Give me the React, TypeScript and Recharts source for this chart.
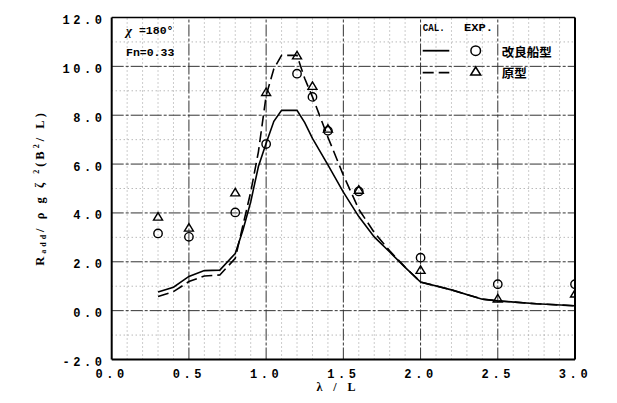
import { ComposedChart, Line, Scatter, XAxis, YAxis, ReferenceLine } from 'recharts'

// calculated curves (λ/L, R_add non-dimensional)
const calLambda = [0.3, 0.4, 0.5, 0.6, 0.7, 0.8, 0.85, 0.9, 0.95, 1.0, 1.05, 1.1, 1.2, 1.25, 1.3, 1.4, 1.5, 1.6, 1.7, 1.8, 1.9, 2.0, 2.2, 2.4, 2.5, 2.75, 3.0]
const calImproved = [0.76, 0.96, 1.4, 1.64, 1.66, 2.34, 3.3, 4.45, 5.9, 6.85, 7.75, 8.2, 8.2, 7.7, 7.05, 5.97, 4.85, 3.85, 3.02, 2.4, 1.77, 1.17, 0.85, 0.47, 0.4, 0.28, 0.2]
const calOriginal = [0.58, 0.78, 1.19, 1.42, 1.46, 2.14, 3.5, 4.85, 6.5, 8.8, 9.9, 10.45, 10.45, 9.5, 8.75, 7.1, 5.55, 4.15, 3.2, 2.45, 1.78, 1.17, 0.85, 0.47, 0.4, 0.28, 0.2]

// experiments
const expLambda = [0.3, 0.5, 0.8, 1.0, 1.2, 1.3, 1.4, 1.6, 2.0, 2.5, 3.0]
const expImproved = [3.16, 3.02, 4.02, 6.82, 9.7, 8.75, 7.36, 4.88, 2.17, 1.08, 1.08]
const expOriginal = [3.85, 3.4, 4.84, 8.95, 10.45, 9.2, 7.45, 4.95, 1.67, 0.5, 0.7]

const xTicks = [0, 0.5, 1.0, 1.5, 2.0, 2.5, 3.0]
const yTicks = [-2, 0, 2, 4, 6, 8, 10, 12]
const xMinor = [0.1, 0.2, 0.3, 0.4, 0.6, 0.7, 0.8, 0.9, 1.1, 1.2, 1.3, 1.4, 1.6, 1.7, 1.8, 1.9, 2.1, 2.2, 2.3, 2.4, 2.6, 2.7, 2.8, 2.9]
const yMinor = [-1, 1, 3, 5, 7, 9, 11]
const xMajor = [0.5, 1.0, 1.5, 2.0, 2.5]
const yMajor = [0, 2, 4, 6, 8, 10]

const improvedLine = calLambda.map((x, i) => ({ x, y: calImproved[i] }))
const originalLine = calLambda.map((x, i) => ({ x, y: calOriginal[i] }))
const improvedPts = expLambda.map((x, i) => ({ x, y: expImproved[i] }))
const originalPts = expLambda.map((x, i) => ({ x, y: expOriginal[i] }))

const W = 600
const H = 395
const margin = { top: 9.5, right: 33, bottom: 13.5, left: 0 }
const xAxisH = 30
const plotBottom = H - margin.bottom - xAxisH

const mono = "'Liberation Mono', monospace"
const serif = "'Liberation Serif', serif"
const cjk = "'Noto Sans CJK JP', sans-serif"

function XTick(props: any) {
  const { x, payload } = props
  return (
    <text x={x} y={plotBottom + 15} textAnchor="middle" dominantBaseline="central"
      fontFamily={mono} fontWeight="bold" fontSize={12} letterSpacing={3.6} fill="#000">
      {Number(payload.value).toFixed(1)}
    </text>
  )
}

function YTick(props: any) {
  const { y, payload } = props
  return (
    <text x={97.6} y={y + 3.5} textAnchor="end" dominantBaseline="central"
      fontFamily={mono} fontWeight="bold" fontSize={12} letterSpacing={3.6} fill="#000">
      {Number(payload.value).toFixed(1)}
    </text>
  )
}

function Ring(props: any) {
  const { cx, cy } = props
  if (cx == null || cy == null) return null
  return <circle cx={cx} cy={cy} r={4.2} fill="none" stroke="#000" strokeWidth={1.4} />
}

function Tri(props: any) {
  const { cx, cy } = props
  if (cx == null || cy == null) return null
  return (
    <polygon points={`${cx},${cy - 4} ${cx - 4.5},${cy + 3.5} ${cx + 4.5},${cy + 3.5}`}
      fill="none" stroke="#000" strokeWidth={1.4} />
  )
}

export default function App() {
  return (
    <div style={{ position: 'relative', width: W, height: H }}>
      <ComposedChart width={W} height={H} margin={margin}>
        {xMinor.map(v => (
          <ReferenceLine key={'xm' + v} x={v} stroke="#999" strokeDasharray="1 3" />
        ))}
        {yMinor.map(v => (
          <ReferenceLine key={'ym' + v} y={v} stroke="#999" strokeDasharray="1 3" />
        ))}
        {xMajor.map(v => (
          <ReferenceLine key={'xM' + v} x={v} stroke="#333" strokeDasharray="12 2 3 2" />
        ))}
        {yMajor.map(v => (
          <ReferenceLine key={'yM' + v} y={v} stroke="#333" strokeDasharray="12 2 3 2" />
        ))}
        <ReferenceLine x={3} stroke="#000" strokeWidth={2} />
        <ReferenceLine y={12} stroke="#000" strokeWidth={1.5} />
        <XAxis type="number" dataKey="x" domain={[0, 3]} ticks={xTicks} interval={0} height={xAxisH}
          tickLine={false} axisLine={{ stroke: '#000', strokeWidth: 2 }} tick={<XTick />} allowDataOverflow />
        <YAxis type="number" dataKey="y" domain={[-2, 12]} ticks={yTicks} interval={0} width={103.7}
          tickLine={false} axisLine={{ stroke: '#000', strokeWidth: 2 }} tick={<YTick />} allowDataOverflow />
        <Line data={improvedLine} dataKey="y" type="linear" stroke="#000" strokeWidth={1.6}
          dot={false} activeDot={false} isAnimationActive={false} />
        <Line data={originalLine} dataKey="y" type="linear" stroke="#000" strokeWidth={1.6}
          strokeDasharray="11 5" dot={false} activeDot={false} isAnimationActive={false} />
        <Scatter data={improvedPts} dataKey="y" shape={<Ring />} isAnimationActive={false} />
        <Scatter data={originalPts} dataKey="y" shape={<Tri />} isAnimationActive={false} />
      </ComposedChart>

      <svg width={W} height={H} style={{ position: 'absolute', left: 0, top: 0, pointerEvents: 'none' }}>
        {/* case annotation */}
        <text x={118} y={22.3} dominantBaseline="central" fontFamily={mono} fontWeight="bold" fontSize={11.5}>
          <tspan fontFamily={serif} fontStyle="italic" fontSize={13}>χ</tspan> =180°
        </text>
        <text x={118} y={44} dominantBaseline="central" fontFamily={mono} fontWeight="bold" fontSize={11.5}>Fn=0.33</text>

        {/* legend */}
        <text x={414.7} y={20.3} dominantBaseline="central" fontFamily={mono} fontWeight="bold" fontSize={11}
          textLength={22} lengthAdjust="spacingAndGlyphs">CAL.</text>
        <text x={456} y={20.3} dominantBaseline="central" fontFamily={mono} fontWeight="bold" fontSize={11}
          textLength={29} lengthAdjust="spacingAndGlyphs">EXP.</text>
        <line x1={414.7} x2={441.3} y1={42.7} y2={42.7} stroke="#000" strokeWidth={1.8} />
        <circle cx={467.7} cy={42.7} r={4.8} fill="none" stroke="#000" strokeWidth={1.5} />
        <text x={493.7} y={43.7} dominantBaseline="central" fontFamily={cjk} fontWeight="bold" fontSize={12.5}>改良船型</text>
        <line x1={414.7} x2={441.3} y1={64.7} y2={64.7} stroke="#000" strokeWidth={1.8} strokeDasharray="11 5" />
        <polygon points="467.7,59 462.7,67 472.7,67" fill="none" stroke="#000" strokeWidth={1.5} />
        <text x={493.7} y={64} dominantBaseline="central" fontFamily={cjk} fontWeight="bold" fontSize={12.5}>原型</text>

        {/* axis titles */}
        <text x={330} y={379} textAnchor="middle" dominantBaseline="central" fontFamily={serif} fontWeight="bold"
          fontSize={12} letterSpacing={4}>λ / L</text>
        <text transform="translate(32,180) rotate(-90)" textAnchor="middle" dominantBaseline="central"
          fontFamily={serif} fontWeight="bold" fontSize={12.5} letterSpacing={3}>
          R<tspan fontSize={8} dy={3}>add</tspan><tspan dy={-3}>/ ρ g ζ </tspan><tspan fontSize={8} dy={-4}>2</tspan><tspan dy={4}>(B</tspan><tspan fontSize={8} dy={-4}>2</tspan><tspan dy={4}>/ L)</tspan>
        </text>
      </svg>
    </div>
  )
}
